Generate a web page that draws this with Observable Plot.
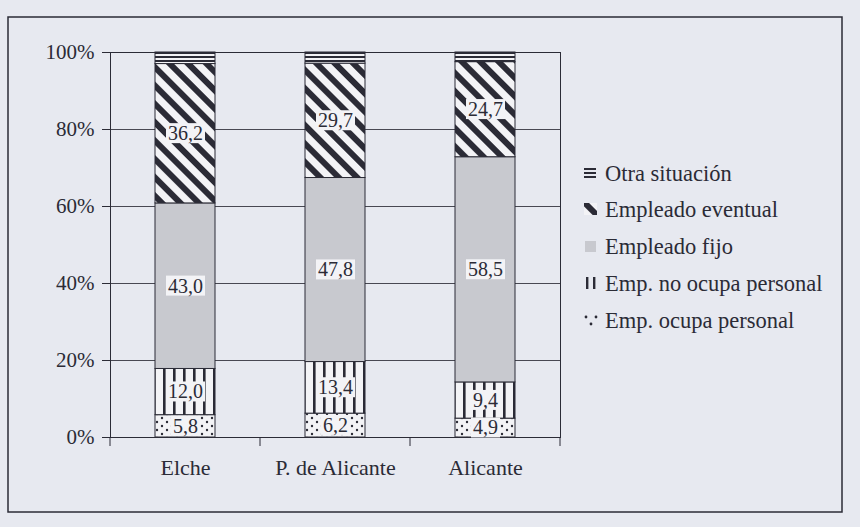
<!DOCTYPE html>
<html><head><meta charset="utf-8">
<script src="https://cdn.jsdelivr.net/npm/d3@7"></script>
<script src="https://cdn.jsdelivr.net/npm/@observablehq/plot@0.6"></script>
<style>
body{margin:0;background:#e7e9f0;}
#chart svg{display:block;}
#chart svg, #chart svg text{font-family:"Liberation Serif","DejaVu Serif",serif !important;}
</style></head><body><div id="chart"></div>
<script>
// ---- data ----
const cities = ["Elche", "P. de Alicante", "Alicante"];
const categories = ["Emp. ocupa personal", "Emp. no ocupa personal", "Empleado fijo", "Empleado eventual", "Otra situación"];
const ocupaPersonal   = [5.8, 6.2, 4.9];
const noOcupaPersonal = [12.0, 13.4, 9.4];
const empleadoFijo    = [43.0, 47.8, 58.5];
const empleadoEventual= [36.2, 29.7, 24.7];
const otraSituacion   = [3.0, 2.9, 2.5];
const yTicks = [0, 20, 40, 60, 80, 100];
const legendOrder = ["Otra situación", "Empleado eventual", "Empleado fijo", "Emp. no ocupa personal", "Emp. ocupa personal"];

const series = [ocupaPersonal, noOcupaPersonal, empleadoFijo, empleadoEventual, otraSituacion];
const rows = [];
cities.forEach((c, i) => categories.forEach((k, j) => rows.push({city: c, cat: k, value: series[j][i]})));

const ink = "#2b2b36";
const light = "#f3f3f6";
const gray = "#c8c9cf";
const fills = ["url(#p-ocupa)", "url(#p-noocupa)", gray, "url(#p-eventual)", "url(#p-otra)"];
const fmt = v => v.toFixed(1).replace(".", ",");
const serifFont = '"Liberation Serif", "DejaVu Serif", serif';

const plot = Plot.plot({
  width: 860, height: 527,
  marginLeft: 110, marginRight: 300, marginTop: 52, marginBottom: 90,
  style: {fontFamily: serifFont, fontSize: "21px", color: ink, background: "transparent", overflow: "visible"},
  x: {domain: cities, paddingInner: 0.6, paddingOuter: 0.3, label: null},
  y: {domain: [0, 100], label: null},
  color: {domain: categories, range: fills},
  marks: [
    Plot.ruleY([20, 40, 60, 80], {stroke: ink, strokeWidth: 1, strokeOpacity: 0.85}),
    Plot.barY(rows, {x: "city", y: "value", fill: "cat", order: categories, stroke: ink, strokeWidth: 1}),
    Plot.frame({stroke: ink, strokeWidth: 1}),
    Plot.text(rows.filter(d => d.cat !== "Otra situación"),
      Plot.stackY({x: "city", y: "value", z: "cat", order: categories, text: d => fmt(d.value), fill: ink, fontSize: 20})),
    Plot.axisY({ticks: yTicks, tickFormat: d => d + "%", tickSize: 8, tickPadding: 8, fontSize: 21, stroke: ink}),
    Plot.axisX({tickSize: 0, tickPadding: 22, fontSize: 22})
  ]
});
document.getElementById("chart").appendChild(plot);

const svg = d3.select(plot);
svg.attr("font-family", serifFont);
const defs = svg.insert("defs", ":first-child");
// horizontal stripes (Otra situación)
let p = defs.append("pattern").attr("id", "p-otra").attr("patternUnits", "userSpaceOnUse").attr("width", 8).attr("height", 4);
p.append("rect").attr("width", 8).attr("height", 4).attr("fill", light);
p.append("rect").attr("width", 8).attr("height", 2).attr("fill", ink);
// diagonal stripes (Empleado eventual)
p = defs.append("pattern").attr("id", "p-eventual").attr("patternUnits", "userSpaceOnUse").attr("width", 13).attr("height", 13).attr("patternTransform", "rotate(45)");
p.append("rect").attr("width", 13).attr("height", 13).attr("fill", light);
p.append("rect").attr("width", 13).attr("height", 6).attr("fill", ink);
// vertical lines (Emp. no ocupa personal)
p = defs.append("pattern").attr("id", "p-noocupa").attr("patternUnits", "userSpaceOnUse").attr("width", 10).attr("height", 10).attr("x", 0);
p.append("rect").attr("width", 10).attr("height", 10).attr("fill", light);
p.append("rect").attr("x", 3).attr("width", 2.6).attr("height", 10).attr("fill", ink);
// dots (Emp. ocupa personal)
p = defs.append("pattern").attr("id", "p-ocupa").attr("patternUnits", "userSpaceOnUse").attr("width", 10).attr("height", 8);
p.append("rect").attr("width", 10).attr("height", 8).attr("fill", light);
p.append("circle").attr("cx", 2).attr("cy", 2).attr("r", 1.2).attr("fill", ink);
p.append("circle").attr("cx", 7).attr("cy", 6).attr("r", 1.2).attr("fill", ink);

// white boxes behind value labels
svg.selectAll('g[aria-label="text"] text').each(function() {
  const b = this.getBBox();
  const r = document.createElementNS("http://www.w3.org/2000/svg", "rect");
  r.setAttribute("x", b.x - 2); r.setAttribute("y", b.y + 1);
  r.setAttribute("width", b.width + 4); r.setAttribute("height", b.height - 2);
  r.setAttribute("fill", light);
  const t = this.getAttribute("transform"); if (t) r.setAttribute("transform", t);
  this.parentNode.insertBefore(r, this);
});

// x-axis boundary ticks
const xs = plot.scale("x");
const y0 = plot.scale("y").apply(0);
const half = (xs.step - xs.bandwidth) / 2;
const bounds = cities.map(c => xs.apply(c) - half).concat([xs.apply(cities[cities.length - 1]) + xs.bandwidth + half]);
svg.append("g").selectAll("line").data(bounds).join("line")
  .attr("x1", d => d).attr("x2", d => d).attr("y1", y0).attr("y2", y0 + 9)
  .attr("stroke", ink).attr("stroke-width", 1);

// legend
const legY = [173, 209, 246, 283, 320];
const lg = svg.append("g").attr("font-size", 22.5).attr("fill", ink).attr("text-anchor", "start");
legendOrder.forEach((name, i) => {
  const y = legY[i];
  const g = lg.append("g");
  if (name === "Otra situación") {
    [-4, 0, 4].forEach(o => g.append("rect").attr("x", 584).attr("y", y + o - 1).attr("width", 12).attr("height", 2).attr("fill", ink));
  } else if (name === "Empleado eventual") {
    g.append("rect").attr("x", 584).attr("y", y - 6).attr("width", 13).attr("height", 12).attr("fill", "url(#p-eventual)");
  } else if (name === "Empleado fijo") {
    g.append("rect").attr("x", 585).attr("y", y - 5).attr("width", 11).attr("height", 11).attr("fill", gray);
  } else if (name === "Emp. no ocupa personal") {
    [586, 593].forEach(x => g.append("rect").attr("x", x).attr("y", y - 6).attr("width", 2.4).attr("height", 12).attr("fill", ink));
  } else {
    [[586, y - 3], [596, y - 3], [591, y + 4]].forEach(([cx, cy]) => g.append("circle").attr("cx", cx).attr("cy", cy).attr("r", 1.4).attr("fill", ink));
  }
  g.append("text").attr("x", 605).attr("y", y).attr("dy", "0.35em").attr("text-anchor", "start").text(name);
});

// outer frame
svg.append("rect").attr("x", 8).attr("y", 17).attr("width", 834).attr("height", 495)
  .attr("fill", "none").attr("stroke", ink).attr("stroke-width", 1.5);
</script>
</body></html>
